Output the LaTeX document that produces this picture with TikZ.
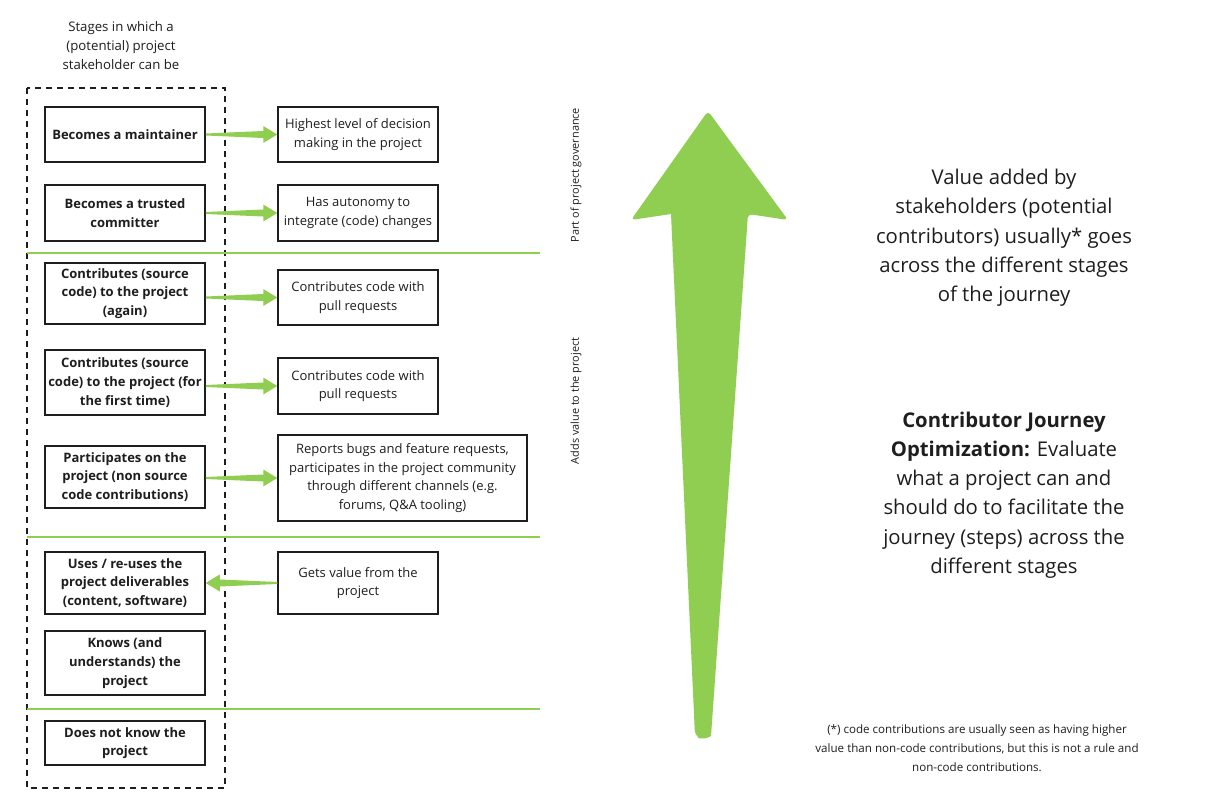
\documentclass[tikz,border=0pt]{standalone}
\usepackage{fontspec}
\setmainfont{Open Sans}
\usetikzlibrary{calc}
\definecolor{agreen}{RGB}{143,206,80}
\definecolor{boxline}{RGB}{30,30,30}
\newcommand\rgarrow[2]{%
  \fill[agreen] let \p1=(#1.east), \p2=(#2.west) in
    (\x1,\y2+1pt) -- (\x2-14pt,\y2+3.5pt) -- (\x2-14pt,\y2+8.5pt) -- (\x2,\y2)
    -- (\x2-14pt,\y2-8.5pt) -- (\x2-14pt,\y2-3.5pt) -- (\x1,\y2-1pt) -- cycle;}
\newcommand\lgarrow[2]{%
  \fill[agreen] let \p1=(#1.west), \p2=(#2.east) in
    (\x1,\y1+1pt) -- (\x2+14pt,\y1+3.5pt) -- (\x2+14pt,\y1+8.5pt) -- (\x2,\y1)
    -- (\x2+14pt,\y1-8.5pt) -- (\x2+14pt,\y1-3.5pt) -- (\x1,\y1-1pt) -- cycle;}
\begin{document}
\begin{tikzpicture}[x=1pt,y=-1pt,
  stage/.style={draw=boxline,line width=1.5pt,minimum width=160pt,inner sep=2pt,
    align=center,font=\fontsize{13}{18.7}\selectfont\bfseries,text=boxline},
  info/.style={draw=boxline,line width=1.5pt,minimum width=160pt,inner sep=2pt,
    align=center,font=\fontsize{13}{18.7}\selectfont,text=boxline},
  sep/.style={agreen,line width=1.5pt},
  side/.style={rotate=90,font=\fontsize{10.9}{12}\selectfont,text=boxline},
  big/.style={align=center,font=\fontsize{20.3}{29.3}\selectfont,text=boxline}]
\useasboundingbox (0,0) rectangle (1231,811);
\fill[white] (0,0) rectangle (1231,811);

\node[align=center,font=\fontsize{13.2}{19}\selectfont,text=boxline] (title) at (121,46)
  {Stages in which a\\(potential) project\\stakeholder can be};

\draw[boxline,line width=1.4pt,dash pattern=on 6pt off 5pt] (27,88) rectangle (225,788);

\draw[sep] (27,253) -- (540,253);
\draw[sep] (27,537) -- (540,537);
\draw[sep] (27,709) -- (540,709);

\node[stage,minimum height=55pt] (l1) at (125,134.5) {Becomes a maintainer};
\node[stage,minimum height=56pt] (l2) at (125,213) {Becomes a trusted\\committer};
\node[stage,minimum height=61pt] (l3) at (125,293.5) {Contributes (source\\code) to the project\\(again)};
\node[stage,minimum height=65pt] (l4) at (125,382.5) {Contributes (source\\code) to the project (for\\the first time)};
\node[stage,minimum height=62pt] (l5) at (125,477) {Participates on the\\project (non source\\code contributions)};
\node[stage,minimum height=62pt] (l6) at (125,583) {Uses / re-uses the\\project deliverables\\(content, software)};
\node[stage,minimum height=64pt] (l7) at (125,663) {Knows (and\\understands) the\\project};
\node[stage,minimum height=44pt] (l8) at (125,743) {Does not know the\\project};

\node[info,minimum height=55pt] (r1) at (358,134.5) {Highest level of decision\\making in the project};
\node[info,minimum height=56pt] (r2) at (358,213) {Has autonomy to\\integrate (code) changes};
\node[info,minimum height=55pt] (r3) at (358,297.5) {Contributes code with\\pull requests};
\node[info,minimum height=56pt] (r4) at (358,386) {Contributes code with\\pull requests};
\node[info,minimum width=249pt,minimum height=86pt] (r5) at (402.5,478) {Reports bugs and feature requests,\\participates in the project community\\through different channels (e.g.\\forums, Q\&A tooling)};
\node[info,minimum height=62pt] (r6) at (358,583) {Gets value from the\\project};

\rgarrow{l1}{r1}
\rgarrow{l2}{r2}
\rgarrow{l3}{r3}
\rgarrow{l4}{r4}
\rgarrow{l5}{r5}
\lgarrow{r6}{l6}

\node[side] (gov) at (576,175) {Part of project governance};
\node[side] (adds) at (576,401) {Adds value to the project};

% big arrow
\fill[agreen,rounded corners=4pt] (708,111) -- (788,220) -- (748,214) [sharp corners] -- (711,736) [rounded corners=6pt] -- (703,740) -- (695,736) [sharp corners] -- (671,214) [rounded corners=4pt] -- (631,220) -- cycle;

\node[big] (value) at (1004,238) {Value added by\\stakeholders (potential\\contributors) usually* goes\\across the different stages\\of the journey};
\node[big] (cjo) at (1004,495) {\textbf{Contributor Journey}\\\textbf{Optimization:} Evaluate\\what a project can and\\should do to facilitate the\\journey (steps) across the\\different stages};

\node[align=center,font=\fontsize{11.6}{18.7}\selectfont,text=boxline] (note) at (977,748)
  {(*) code contributions are usually seen as having higher\\value than non-code contributions, but this is not a rule and\\non-code contributions.};
\end{tikzpicture}
\end{document}
